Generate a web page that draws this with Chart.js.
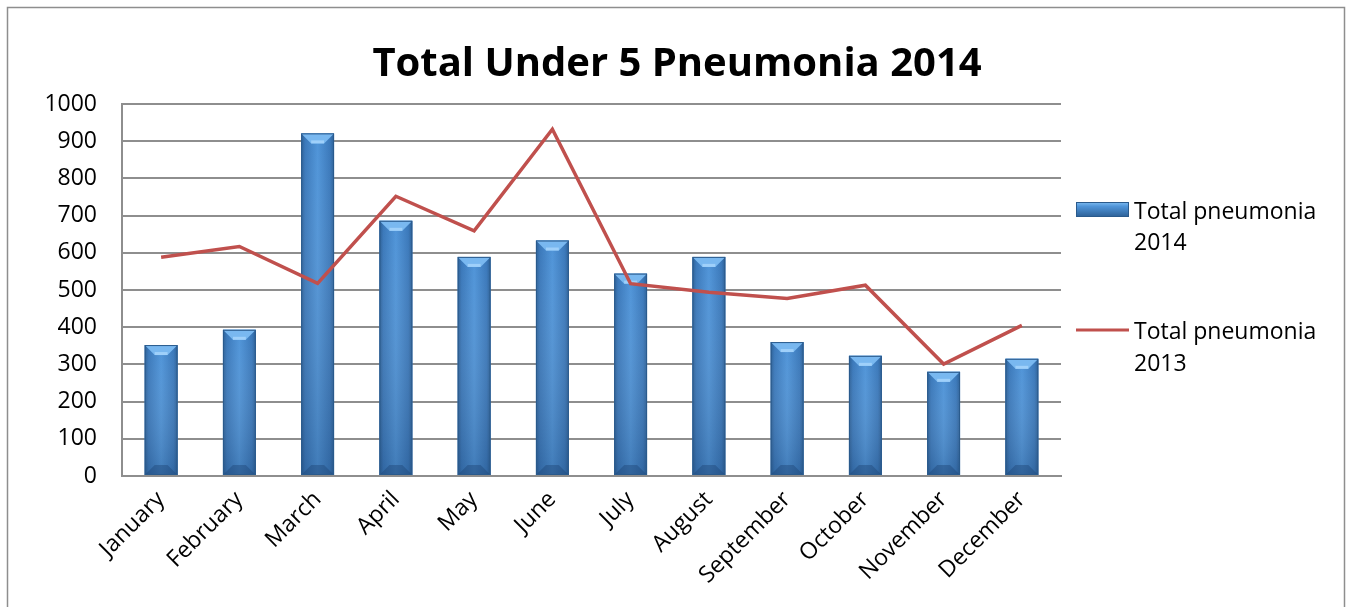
<!DOCTYPE html>
<html><head><meta charset="utf-8">
<script src="https://cdn.jsdelivr.net/npm/chart.js@4.4.1/dist/chart.umd.min.js"></script>
<style>html,body{margin:0;padding:0;background:#fff}#wrap{width:1352px;height:607px;position:relative}</style>
</head><body><div id="wrap"><canvas id="c" width="1352" height="607"></canvas></div>
<script>
const categories = ["January","February","March","April","May","June","July","August","September","October","November","December"];
const values2014 = [352, 393, 921, 686, 589, 633, 544, 589, 360, 323, 280, 315];
const values2013 = [588, 617, 518, 752, 659, 932, 517, 494, 477, 513, 301, 405];
const yTicks = [0,100,200,300,400,500,600,700,800,900,1000];
const seriesNames = [["Total pneumonia","2014"],["Total pneumonia","2013"]];
const titleText = "Total Under 5 Pneumonia 2014";
const FONT = "'Open Sans', sans-serif";

function barGradient(ctx, x0, x1){
  const g = ctx.createLinearGradient(x0,0,x1,0);
  g.addColorStop(0,'#2c5f95');
  g.addColorStop(0.12,'#3a78ba');
  g.addColorStop(0.5,'#4f94d8');
  g.addColorStop(0.88,'#3a78ba');
  g.addColorStop(1,'#2c5f95');
  return g;
}

const decor = {
  id:'decor',
  beforeDraw(chart){
    const ctx = chart.ctx;
    ctx.save();
    ctx.fillStyle='#fff';ctx.fillRect(0,0,chart.width,chart.height);
    ctx.strokeStyle='#8e8e8e';ctx.lineWidth=1.5;
    ctx.strokeRect(7.5,7.5,1337,640);
    ctx.fillStyle='#000';
    ctx.font="bold 40px "+FONT;
    ctx.textAlign='center';ctx.textBaseline='middle';
    ctx.fillText(titleText,677,65);
    ctx.restore();
  },
  afterDatasetDraw(chart, args){
    const meta = args.meta;
    if (meta.type !== 'bar') return;
    const ctx = chart.ctx;
    ctx.save();
    meta.data.forEach(el=>{
      const p = el.getProps(['x','y','base','width'], true);
      const w = p.width, x0 = p.x - w/2, x1 = p.x + w/2, top = p.y, base = p.base;
      if (![w,x0,x1,top,base].every(Number.isFinite)) return;
      ctx.fillStyle = barGradient(ctx,x0,x1);
      ctx.fillRect(x0,top,w,base-top);
      const vg = ctx.createLinearGradient(0,top,0,base);
      vg.addColorStop(0,'rgba(255,255,255,0)');
      vg.addColorStop(1,'rgba(20,50,90,0.25)');
      ctx.fillStyle=vg;ctx.fillRect(x0,top,w,base-top);
      const bv = 10;
      ctx.fillStyle='#79b8f0';
      ctx.beginPath();
      ctx.moveTo(x0,top);ctx.lineTo(x1,top);ctx.lineTo(x1-bv,top+bv);ctx.lineTo(x0+bv,top+bv);ctx.closePath();ctx.fill();
      ctx.fillStyle='#9fd0fa';
      ctx.fillRect(x0+bv,top+bv-3,w-2*bv,3);
      ctx.fillStyle='rgba(30,70,120,0.45)';
      ctx.beginPath();
      ctx.moveTo(x0,base);ctx.lineTo(x1,base);ctx.lineTo(x1-bv,base-bv);ctx.lineTo(x0+bv,base-bv);ctx.closePath();ctx.fill();
      ctx.strokeStyle='#2a5a8c';ctx.lineWidth=1;
      ctx.strokeRect(x0+0.5,top+0.5,w-1,base-top-1);
    });
    ctx.restore();
  },
  afterDraw(chart){
    const ctx = chart.ctx;
    ctx.save();
    ctx.font="23px "+FONT;ctx.textBaseline='middle';ctx.textAlign='left';
    const lx0=1076, lx1=1129;
    const g = ctx.createLinearGradient(0,202,0,217);
    g.addColorStop(0,'#7fbdf2');g.addColorStop(0.3,'#4f94d8');g.addColorStop(1,'#2c5f95');
    ctx.fillStyle=g;ctx.fillRect(lx0,202,lx1-lx0,15);
    ctx.strokeStyle='#2a5a8c';ctx.lineWidth=1;ctx.strokeRect(lx0+0.5,202.5,lx1-lx0-1,14);
    ctx.fillStyle='#000';
    ctx.fillText(seriesNames[0][0],1134,212);
    ctx.fillText(seriesNames[0][1],1134,243);
    ctx.strokeStyle='#c0504d';ctx.lineWidth=3;
    ctx.beginPath();ctx.moveTo(lx0,330);ctx.lineTo(lx1,330);ctx.stroke();
    ctx.fillText(seriesNames[1][0],1134,332);
    ctx.fillText(seriesNames[1][1],1134,364);
    ctx.restore();
  }
};

new Chart(document.getElementById('c'),{
  data:{
    labels:categories,
    datasets:[
      {type:'line',label:seriesNames[1].join(' '),data:values2013,borderColor:'#c0504d',borderWidth:3.5,pointRadius:0,tension:0,order:0},
      {type:'bar',label:seriesNames[0].join(' '),data:values2014,backgroundColor:'#4a8bd0',barPercentage:0.42,categoryPercentage:1,order:1}
    ]
  },
  options:{
    responsive:false,animation:false,
    layout:{padding:{top:104,left:0,right:291,bottom:0}},
    plugins:{legend:{display:false},title:{display:false},tooltip:{enabled:false}},
    scales:{
      x:{
        grid:{display:false,drawTicks:false},
        border:{display:true,color:'#8e8e8e',width:2},
        ticks:{font:{family:FONT,size:23},color:'#000',maxRotation:45,minRotation:45,padding:10,autoSkip:false},
        afterFit(s){s.height=131;}
      },
      y:{
        min:0,max:1000,
        afterBuildTicks(s){s.ticks=yTicks.map(v=>({value:v}));},
        grid:{color:'#8e8e8e',lineWidth:2,drawTicks:false},
        border:{display:true,color:'#8e8e8e',width:2},
        ticks:{font:{family:FONT,size:23},color:'#000',padding:25,callback:v=>String(v)},
        afterFit(s){s.width=122;}
      }
    }
  },
  plugins:[decor]
});
</script></body></html>
